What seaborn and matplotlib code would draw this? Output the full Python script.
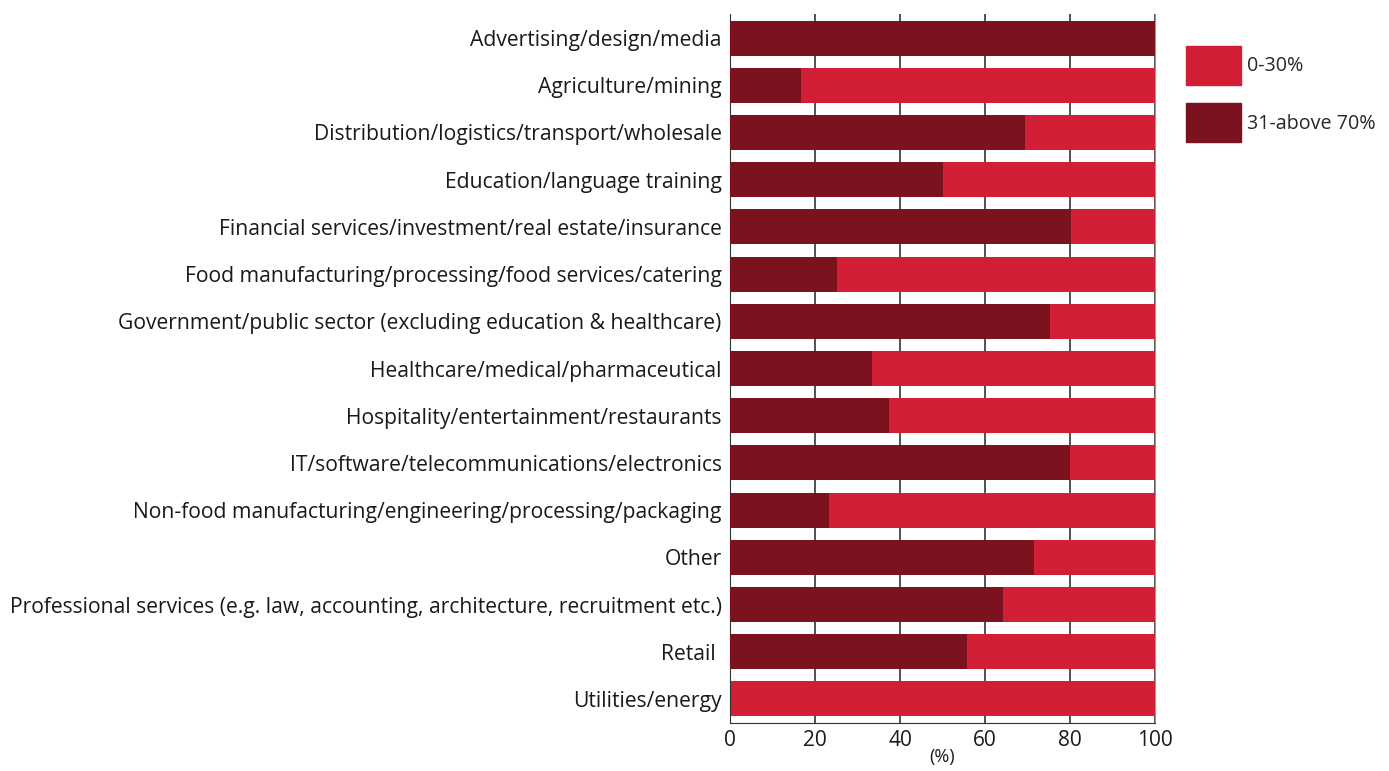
import pandas as pd
import seaborn as sns
import matplotlib.pyplot as plt
from matplotlib.patches import Patch

sectors = ['Advertising/design/media', 'Agriculture/mining',
           'Distribution/logistics/transport/wholesale', 'Education/language training',
           'Financial services/investment/real estate/insurance',
           'Food manufacturing/processing/food services/catering',
           'Government/public sector (excluding education & healthcare)',
           'Healthcare/medical/pharmaceutical', 'Hospitality/entertainment/restaurants',
           'IT/software/telecommunications/electronics',
           'Non-food manufacturing/engineering/processing/packaging', 'Other',
           'Professional services (e.g. law, accounting, architecture, recruitment etc.)',
           'Retail ', 'Utilities/energy']
high = [100, 16.7, 69.4, 50.1, 80.2, 25.2, 75.3, 33.4, 37.4, 80.0, 23.3, 71.5, 64.2, 55.8, 0]
low = [100 - v for v in high]

red = '#d31f35'
dark = '#7c111f'

df = pd.DataFrame({'sector': sectors, 'high': high, 'low': low})
df['total'] = df['high'] + df['low']

sns.set_style('white')
plt.rcParams['font.family'] = ['Open Sans', 'DejaVu Sans']
fig = plt.figure(figsize=(13.89, 7.71), dpi=100)
ax = fig.add_axes([730 / 1389, 48 / 771, 425 / 1389, 709 / 771])

# gridlines behind bars
for x in range(0, 101, 20):
    ax.axvline(x, color='#333333', lw=1.2, zorder=0)

sns.barplot(data=df, y='sector', x='total', color=red, orient='h', width=0.74,
            saturation=1, linewidth=0, ax=ax, zorder=2)
sns.barplot(data=df, y='sector', x='high', color=dark, orient='h', width=0.74,
            saturation=1, linewidth=0, ax=ax, zorder=3)

ax.set_xlim(0, 100)
ax.set_ylim(14.51, -0.51)
ax.set_xticks(range(0, 101, 20))
ax.tick_params(axis='x', labelsize=15, length=0, pad=5, colors='#1a1a1a')
ax.tick_params(axis='y', labelsize=15.2, length=0, pad=6, colors='#1a1a1a')
ax.set_ylabel('')
ax.set_xlabel('(%)', fontsize=13, labelpad=-2, color='#1a1a1a')
ax.spines['top'].set_visible(False)
ax.spines['left'].set_color('#333333')
ax.spines['bottom'].set_color('#333333')
ax.spines['right'].set_color('#999999')

handles = [Patch(color=red, label='0-30%'), Patch(color=dark, label='31-above 70%')]
fig.legend(handles=handles, loc='upper left', bbox_to_anchor=(1168 / 1389, 1 - 28 / 771),
           frameon=False, fontsize=14.2, handlelength=2.8, handleheight=2.7,
           labelspacing=0.9, handletextpad=0.3)

fig.savefig('out.png', dpi=100)
